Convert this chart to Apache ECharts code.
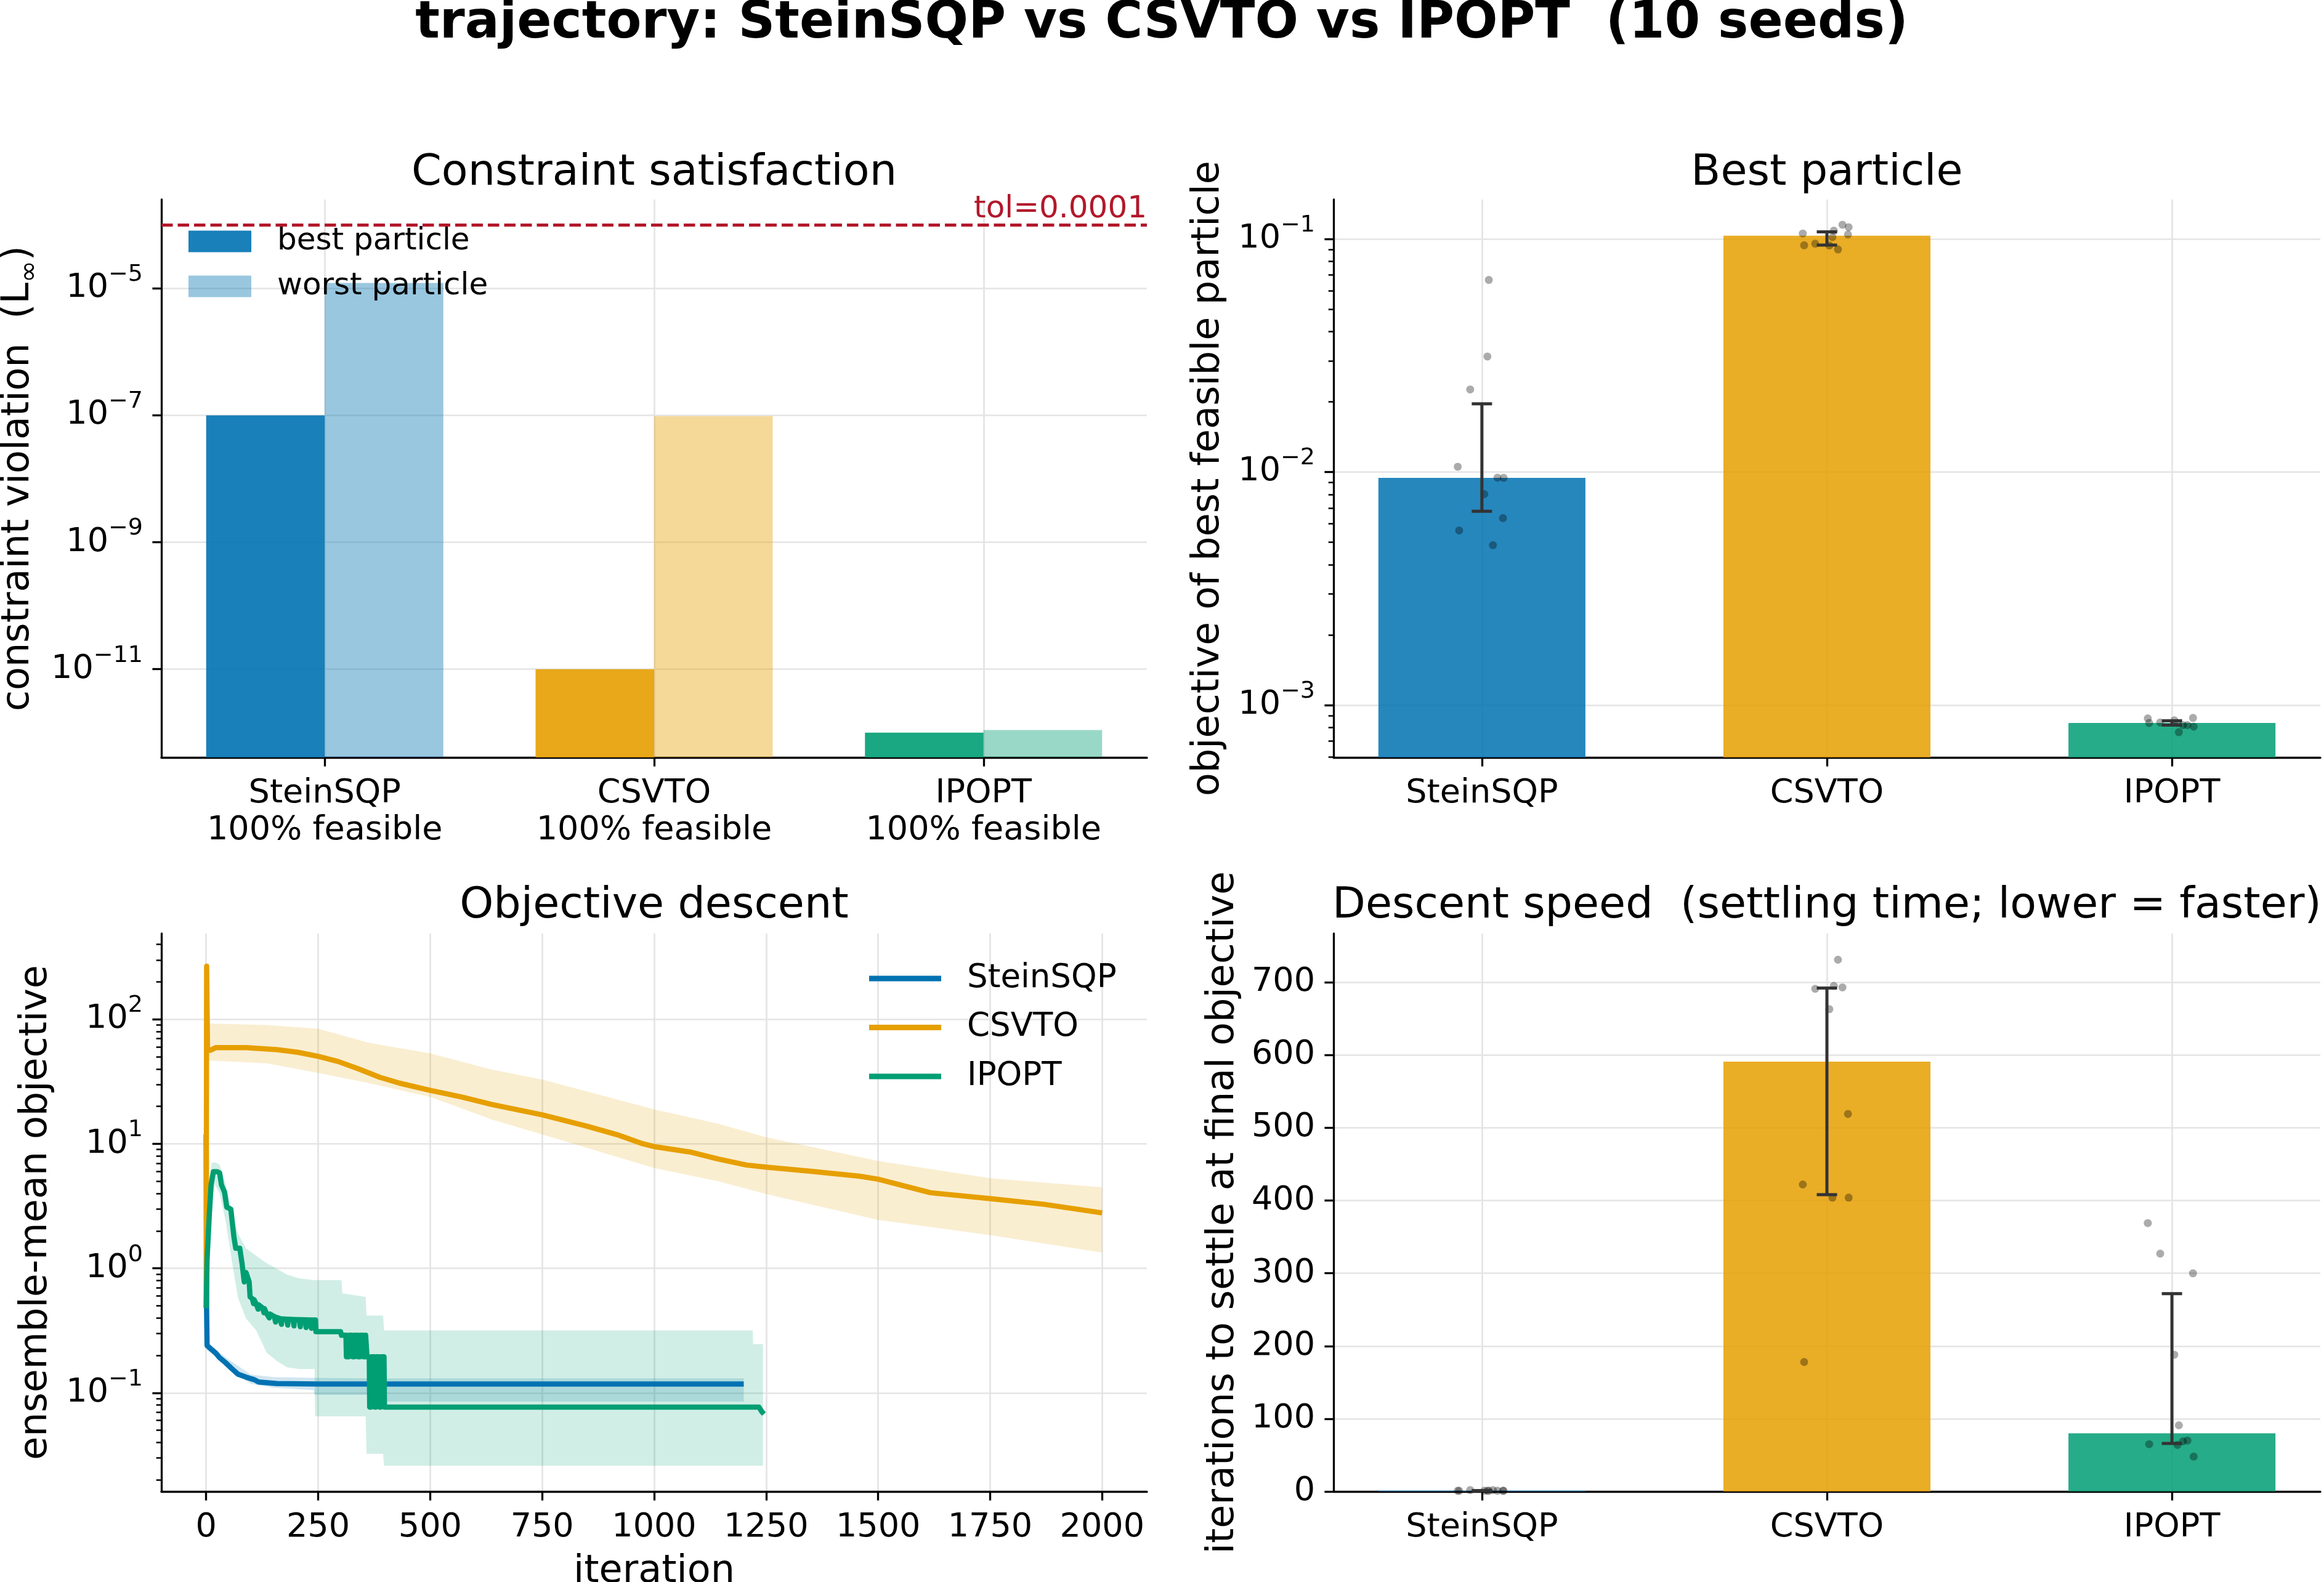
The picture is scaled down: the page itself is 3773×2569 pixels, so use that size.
<!DOCTYPE html>
<html>
<head>
<meta charset="utf-8">
<title>trajectory: SteinSQP vs CSVTO vs IPOPT</title>
<script src="https://cdn.jsdelivr.net/npm/echarts@6.0.0/dist/echarts.min.js"></script>
<style>
html, body { margin: 0; padding: 0; background: #ffffff; }
#chart { width: 3773px; height: 2569px; }
</style>
</head>
<body>
<div id="chart"></div>
<script>
// ====================== DATA ======================
const METHODS = ['SteinSQP', 'CSVTO', 'IPOPT'];
const FEASIBLE_PCT = [100, 100, 100];
const METHOD_COLORS = ['#0072B2', '#E69F00', '#009E73'];

// Constraint satisfaction (L-infinity violation)
const VIOL_BEST = [1.0e-7, 1.0e-11, 1.0e-12];
const VIOL_WORST = [1.22e-5, 9.7e-8, 1.1e-12];
const TOL = 0.0001;
const VIOL_TICKS = [1e-11, 1e-9, 1e-7, 1e-5];

// per-seed horizontal jitter (category units)
const JITTER = [-0.070, -0.066, -0.034, 0.007, 0.016, 0.020, 0.032, 0.045, 0.061, 0.063];

// Best particle: objective of best feasible particle, per seed
const BEST_OBJ_STEINSQP = [0.01053, 0.00561, 0.0226, 0.00803, 0.0313, 0.0667, 0.00485, 0.00945, 0.00634, 0.00944];
const BEST_OBJ_CSVTO = [0.1055, 0.0939, 0.0954, 0.0937, 0.1019, 0.1085, 0.0901, 0.1150, 0.1045, 0.1123];
const BEST_OBJ_IPOPT = [8.76e-4, 8.37e-4, 8.42e-4, 8.59e-4, 8.37e-4, 7.64e-4, 8.20e-4, 8.20e-4, 8.80e-4, 8.08e-4];
const BEST_OBJ_MEDIAN = [0.00944, 0.1033, 8.37e-4];
const BEST_OBJ_Q25 = [0.00678, 0.0941, 8.20e-4];
const BEST_OBJ_Q75 = [0.0196, 0.1072, 8.55e-4];
const BEST_OBJ_TICKS = [1e-3, 1e-2, 1e-1];

// Descent speed: iterations to settle, per seed
const SETTLE_STEINSQP = [1, 1, 2, 1, 1, 1, 2, 1, 1, 1];
const SETTLE_CSVTO = [422, 178, 691, 663, 404, 695, 731, 693, 519, 404];
const SETTLE_IPOPT = [369, 65, 327, 188, 64, 91, 69, 70, 300, 48];
const SETTLE_MEDIAN = [1, 591, 80];
const SETTLE_Q25 = [1, 408, 66];
const SETTLE_Q75 = [1, 692, 272];
const SETTLE_TICKS = [0, 100, 200, 300, 400, 500, 600, 700];

// Objective descent: ensemble-mean objective [iteration, value]
const STEIN_MEAN = [[0, 11.9], [1, 0.45], [2, 0.24], [11, 0.2245], [21, 0.2095], [30, 0.1914], [44, 0.1738], [57, 0.1567],
  [71, 0.1413], [89, 0.1337], [108, 0.1274], [117, 0.1222], [158, 0.1189], [250, 0.1178], [500, 0.1176], [1200, 0.1176]];
const CSVTO_MEAN = [[0, 0.48], [1, 267], [3, 57], [9, 56.4], [21, 59.2], [89, 59.2], [158, 57.1], [204, 54.4], [250, 50.5],
  [295, 45.8], [341, 39.9], [387, 34.3], [432, 30.7], [500, 26.9], [570, 23.8], [638, 20.7], [750, 17.1], [849, 13.9],
  [922, 11.7], [975, 10.0], [1000, 9.5], [1080, 8.6], [1143, 7.55], [1206, 6.76], [1249, 6.5], [1353, 6.0], [1458, 5.5],
  [1500, 5.2], [1617, 4.05], [1754, 3.62], [1870, 3.27], [2000, 2.79]];
const IPOPT_MEAN = [[0, 0.48], [2, 1.18], [7, 2.7], [11, 4.69], [16, 5.97], [25, 5.97], [30, 5.84], [34, 4.69], [41, 4.08],
  [46, 3.1], [55, 2.99], [62, 1.78], [66, 1.45], [75, 1.45], [80, 1.1], [85, 0.778], [89, 0.925], [96, 0.778], [98, 0.59],
  [103, 0.57], [106, 0.52], [107, 0.56], [112, 0.514], [116, 0.47], [117, 0.51], [126, 0.48], [129, 0.44], [130, 0.475],
  [135, 0.433], [141, 0.40], [142, 0.43], [152, 0.41], [155, 0.37], [156, 0.405], [165, 0.395], [168, 0.355], [169, 0.393],
  [180, 0.39], [182, 0.35], [183, 0.39], [194, 0.388], [196, 0.345], [197, 0.388], [208, 0.387], [210, 0.34], [211, 0.387],
  [221, 0.386], [223, 0.335], [224, 0.386], [233, 0.385], [235, 0.33], [236, 0.385], [244, 0.385], [245, 0.31], [300, 0.31],
  [302, 0.29], [312, 0.29], [313, 0.195], [318, 0.195], [319, 0.29], [326, 0.29], [327, 0.195], [331, 0.195], [332, 0.29],
  [338, 0.29], [339, 0.195], [343, 0.195], [344, 0.29], [350, 0.29], [351, 0.195], [355, 0.195], [356, 0.29], [358, 0.29],
  [359, 0.195], [364, 0.195], [365, 0.0769], [368, 0.0769], [369, 0.195], [375, 0.195], [376, 0.0769], [379, 0.0769],
  [380, 0.195], [386, 0.195], [387, 0.0769], [390, 0.0769], [391, 0.195], [397, 0.195], [398, 0.0769], [1234, 0.0769],
  [1240, 0.071], [1245, 0.0676]];

// spread bands [iteration, lower, upper]
const STEIN_BAND = [[0, 11.9, 11.9], [1, 0.40, 0.50], [2, 0.22, 0.26], [20, 0.195, 0.225], [50, 0.155, 0.185],
  [100, 0.118, 0.14], [150, 0.11, 0.134], [240, 0.105, 0.132], [242, 0.0966, 0.132], [360, 0.0966, 0.131],
  [362, 0.085, 0.131], [1200, 0.085, 0.131]];
const CSVTO_BAND = [[3, 46.8, 92.7], [135, 44.3, 90.0], [250, 37.2, 84.1], [364, 30.7, 64.7], [500, 23.8, 53.4],
  [638, 15.7, 39.4], [750, 11.9, 32.9], [1000, 6.4, 18.9], [1143, 5.0, 14.5], [1250, 3.95, 11.3], [1500, 2.45, 7.3],
  [1750, 1.85, 5.3], [2000, 1.34, 4.48]];
const IPOPT_BAND = [[0, 0.48, 0.48], [2, 0.9, 1.8], [7, 1.8, 4.5], [12, 3.5, 7.0], [20, 4.7, 7.1], [30, 4.0, 6.8],
  [44, 2.35, 4.7], [60, 1.0, 2.6], [71, 0.58, 1.9], [89, 0.395, 1.45], [112, 0.316, 1.26], [135, 0.21, 1.1],
  [158, 0.18, 0.99], [181, 0.16, 0.89], [208, 0.155, 0.83], [242, 0.155, 0.805], [243, 0.0647, 0.805],
  [302, 0.0647, 0.805], [304, 0.0647, 0.63], [356, 0.0647, 0.59], [358, 0.0324, 0.418], [395, 0.0324, 0.418],
  [397, 0.026, 0.317], [1220, 0.026, 0.317], [1221, 0.026, 0.246], [1243, 0.026, 0.246]];
const DESCENT_X_TICKS = [0, 250, 500, 750, 1000, 1250, 1500, 1750, 2000];
const DESCENT_Y_TICKS = [0.1, 1, 10, 100];

// ====================== STYLE / HELPERS ======================
const FONT = 'DejaVu Sans';
const INK = '#000000';
const GRIDC = '#e4e4e4';
const TOL_COLOR = '#b2182b';
const ERR_COLOR = '#333333';
const lg = Math.log10;

// axis limits
const TL_Y = [lg(4.07e-13), lg(2.512e-4)];
const TR_Y = [lg(5.957e-4), lg(0.1476)];
const BL_Y = [lg(0.01614), lg(488.7)];
const BR_Y = [0, 767];
const TL_X = [-0.496, 2.496];
const BAR_X = [-0.43, 2.43];
const BL_X = [-100, 2100];

function minorTicks(lo, hi) {
  const out = [];
  for (let e = Math.floor(lo); e <= Math.ceil(hi); e++) {
    for (let k = 2; k <= 9; k++) { const v = e + lg(k); if (v > lo && v < hi) out.push(v); }
  }
  return out;
}
function supLabel(v) {
  const e = Math.round(v);
  return '{b|10}{s|' + (e < 0 ? '\u2212' : '') + Math.abs(e) + '}';
}
const SUP_RICH = {
  b: { fontFamily: FONT, fontSize: 54, color: INK, lineHeight: 82, verticalAlign: 'middle' },
  s: { fontFamily: FONT, fontSize: 38, color: INK, lineHeight: 54, verticalAlign: 'top' }
};

function xAxisDef(gridIndex, lim, vals, formatter) {
  return {
    type: 'value', gridIndex, position: 'bottom', min: lim[0], max: lim[1],
    axisLine: { show: true, onZero: false, lineStyle: { color: INK, width: 3.3 } },
    axisTick: { show: true, customValues: vals, length: 14.6, lineStyle: { color: INK, width: 3.3 } },
    axisLabel: { show: true, customValues: vals, formatter, margin: 29, fontFamily: FONT, fontSize: 54, lineHeight: 60, color: INK },
    splitLine: { show: true, lineStyle: { color: GRIDC, width: 2.7 } }
  };
}
function yAxisDef(gridIndex, lim, vals, formatter, rich) {
  return {
    type: 'value', gridIndex, position: 'left', min: lim[0], max: lim[1],
    axisLine: { show: true, onZero: false, lineStyle: { color: INK, width: 3.3 } },
    axisTick: { show: true, customValues: vals, length: 14.6, lineStyle: { color: INK, width: 3.3 } },
    axisLabel: { show: true, customValues: vals, formatter, margin: 30, fontFamily: FONT, fontSize: 54, color: INK, rich },
    splitLine: { show: true, lineStyle: { color: GRIDC, width: 2.7 } },
    nameLocation: 'middle'
  };
}
function yMinorDef(gridIndex, lim, vals) {
  return {
    type: 'value', gridIndex, position: 'left', min: lim[0], max: lim[1],
    axisLine: { show: false, onZero: false },
    axisTick: { show: true, customValues: vals, length: 8.3, lineStyle: { color: INK, width: 2.5 } },
    axisLabel: { show: false }, splitLine: { show: false }
  };
}
const NAME_STYLE = { fontFamily: FONT, fontSize: 62, color: INK, lineHeight: 62 };

// custom renderers
function barRender(colors, offset, width, opacity, base) {
  return function (params, api) {
    const i = api.value(0), v = api.value(1);
    const p0 = api.coord([i + offset - width / 2, v]);
    const p1 = api.coord([i + offset + width / 2, base]);
    return { type: 'rect', shape: { x: p0[0], y: p0[1], width: p1[0] - p0[0], height: p1[1] - p0[1] },
      style: { fill: colors[Math.round(i)], opacity } };
  };
}
function errRender(params, api) {
  const x = api.value(0), lo = api.value(1), hi = api.value(2);
  const a = api.coord([x, lo]), b = api.coord([x, hi]);
  const cap = 16.5;
  const st = { stroke: ERR_COLOR, lineWidth: 5 };
  return { type: 'group', children: [
    { type: 'line', shape: { x1: a[0], y1: a[1], x2: b[0], y2: b[1] }, style: st },
    { type: 'line', shape: { x1: a[0] - cap, y1: a[1], x2: a[0] + cap, y2: a[1] }, style: st },
    { type: 'line', shape: { x1: b[0] - cap, y1: b[1], x2: b[0] + cap, y2: b[1] }, style: st }
  ] };
}
function bandRender(band, color) {
  return function (params, api) {
    const up = band.map(p => api.coord([p[0], lg(p[2])]));
    const dn = band.slice().reverse().map(p => api.coord([p[0], lg(p[1])]));
    return { type: 'polygon', shape: { points: up.concat(dn) }, style: { fill: color, opacity: 0.18 } };
  };
}
function dots(seedArrays, transform) {
  const out = [];
  seedArrays.forEach((arr, i) => arr.forEach((v, k) => out.push([i + JITTER[k], transform(v)])));
  return out;
}
const ident = v => v;

// ====================== OPTION ======================
const grids = [
  { left: 262, top: 324, width: 1600, height: 906 },
  { left: 2165, top: 324, width: 1602, height: 906 },
  { left: 262, top: 1516, width: 1600, height: 906 },
  { left: 2165, top: 1516, width: 1602, height: 906 }
].map(g => Object.assign({ containLabel: false, outerBoundsMode: 'none' }, g));

const xAxes = [
  xAxisDef(0, TL_X, [0, 1, 2], v => METHODS[Math.round(v)] + '\n' + FEASIBLE_PCT[Math.round(v)] + '% feasible'),
  xAxisDef(1, BAR_X, [0, 1, 2], v => METHODS[Math.round(v)]),
  Object.assign(xAxisDef(2, BL_X, DESCENT_X_TICKS, v => String(v)), {
    name: 'iteration', nameLocation: 'middle', nameGap: 100, nameTextStyle: NAME_STYLE }),
  xAxisDef(3, BAR_X, [0, 1, 2], v => METHODS[Math.round(v)])
];

const yTL = yAxisDef(0, TL_Y, VIOL_TICKS.map(lg), supLabel, SUP_RICH);
yTL.name = '{a|constraint violation  (L}{s|\u221e}{a|)}';
yTL.nameGap = 192;
yTL.nameTextStyle = { rich: {
  a: { fontFamily: FONT, fontSize: 62, color: INK, lineHeight: 80, verticalAlign: 'middle' },
  s: { fontFamily: FONT, fontSize: 43, color: INK, lineHeight: 56, verticalAlign: 'bottom' } } };

const yTR = yAxisDef(1, TR_Y, BEST_OBJ_TICKS.map(lg), supLabel, SUP_RICH);
yTR.name = 'objective of best feasible particle'; yTR.nameGap = 172; yTR.nameTextStyle = NAME_STYLE;

const yBL = yAxisDef(2, BL_Y, DESCENT_Y_TICKS.map(lg), supLabel, SUP_RICH);
yBL.name = 'ensemble-mean objective'; yBL.nameGap = 172; yBL.nameTextStyle = NAME_STYLE;

const yBR = yAxisDef(3, BR_Y, SETTLE_TICKS, v => String(v));
yBR.name = 'iterations to settle at final objective'; yBR.nameGap = 148; yBR.nameTextStyle = NAME_STYLE;

const yAxes = [yTL, yTR, yMinorDef(1, TR_Y, minorTicks(TR_Y[0], TR_Y[1])), yBL, yMinorDef(2, BL_Y, minorTicks(BL_Y[0], BL_Y[1])), yBR];

const series = [
  // --- Constraint satisfaction
  { type: 'custom', name: 'best particle', xAxisIndex: 0, yAxisIndex: 0, silent: true, z: 2,
    itemStyle: { color: 'rgba(0,114,178,0.9)' },
    data: VIOL_BEST.map((v, i) => [i, lg(v)]),
    renderItem: barRender(METHOD_COLORS, -0.18, 0.36, 0.9, TL_Y[0]),
    markLine: { silent: true, symbol: ['none', 'none'], animation: false, data: [{ yAxis: lg(TOL) }],
      lineStyle: { type: [18.5, 8], color: TOL_COLOR, width: 5 },
      label: { show: true, position: 'insideEndTop', formatter: 'tol=' + TOL, fontFamily: FONT, fontSize: 50, color: TOL_COLOR, distance: 0 } } },
  { type: 'custom', name: 'worst particle', xAxisIndex: 0, yAxisIndex: 0, silent: true, z: 2,
    itemStyle: { color: 'rgba(0,114,178,0.4)' },
    data: VIOL_WORST.map((v, i) => [i, lg(v)]),
    renderItem: barRender(METHOD_COLORS, 0.18, 0.36, 0.4, TL_Y[0]) },

  // --- Best particle
  { type: 'custom', name: 'best-median', xAxisIndex: 1, yAxisIndex: 1, silent: true, z: 2,
    data: BEST_OBJ_MEDIAN.map((v, i) => [i, lg(v)]),
    renderItem: barRender(METHOD_COLORS, 0, 0.6, 0.85, TR_Y[0]) },
  { type: 'scatter', name: 'best-seeds', xAxisIndex: 1, yAxisIndex: 1, silent: true, z: 3,
    symbolSize: 13, itemStyle: { color: '#000', opacity: 0.33 },
    data: dots([BEST_OBJ_STEINSQP, BEST_OBJ_CSVTO, BEST_OBJ_IPOPT], lg) },
  { type: 'custom', name: 'best-iqr', xAxisIndex: 1, yAxisIndex: 1, silent: true, z: 4,
    encode: { x: 0, y: [1, 2] },
    data: BEST_OBJ_MEDIAN.map((v, i) => [i, lg(BEST_OBJ_Q25[i]), lg(BEST_OBJ_Q75[i])]),
    renderItem: errRender },

  // --- Objective descent
  { type: 'custom', name: 'band-SteinSQP', xAxisIndex: 2, yAxisIndex: 3, silent: true, z: 1, clip: true,
    data: [[STEIN_BAND[0][0], lg(STEIN_BAND[0][1])]], renderItem: bandRender(STEIN_BAND, METHOD_COLORS[0]) },
  { type: 'custom', name: 'band-CSVTO', xAxisIndex: 2, yAxisIndex: 3, silent: true, z: 1, clip: true,
    data: [[CSVTO_BAND[0][0], lg(CSVTO_BAND[0][1])]], renderItem: bandRender(CSVTO_BAND, METHOD_COLORS[1]) },
  { type: 'custom', name: 'band-IPOPT', xAxisIndex: 2, yAxisIndex: 3, silent: true, z: 1, clip: true,
    data: [[IPOPT_BAND[0][0], lg(IPOPT_BAND[0][1])]], renderItem: bandRender(IPOPT_BAND, METHOD_COLORS[2]) }
].concat([STEIN_MEAN, CSVTO_MEAN, IPOPT_MEAN].map((arr, i) => ({
  type: 'line', name: METHODS[i], xAxisIndex: 2, yAxisIndex: 3, silent: true, z: 2 + i * 0.01, clip: true,
  showSymbol: false, symbol: 'none', color: METHOD_COLORS[i],
  itemStyle: { color: METHOD_COLORS[i] },
  lineStyle: { width: 8.5, color: METHOD_COLORS[i], join: 'round', cap: 'butt' },
  data: arr.map(p => [p[0], lg(p[1])])
}))).concat([
  // --- Descent speed
  { type: 'custom', name: 'settle-median', xAxisIndex: 3, yAxisIndex: 5, silent: true, z: 2,
    data: SETTLE_MEDIAN.map((v, i) => [i, v]),
    renderItem: barRender(METHOD_COLORS, 0, 0.6, 0.85, 0) },
  { type: 'scatter', name: 'settle-seeds', xAxisIndex: 3, yAxisIndex: 5, silent: true, z: 3,
    symbolSize: 13, itemStyle: { color: '#000', opacity: 0.33 },
    data: dots([SETTLE_STEINSQP, SETTLE_CSVTO, SETTLE_IPOPT], ident) },
  { type: 'custom', name: 'settle-iqr', xAxisIndex: 3, yAxisIndex: 5, silent: true, z: 4,
    encode: { x: 0, y: [1, 2] },
    data: SETTLE_MEDIAN.map((v, i) => [i, SETTLE_Q25[i], SETTLE_Q75[i]]),
    renderItem: errRender }
]);

const titleText = (text, x, y, size, weight) => ({
  type: 'text', x, y, silent: true,
  style: { text, fontFamily: FONT, fontSize: size, fontWeight: weight || 'normal', fill: INK, align: 'center', verticalAlign: 'middle' }
});

const option = {
  animation: false,
  backgroundColor: '#ffffff',
  textStyle: { fontFamily: FONT },
  grid: grids,
  xAxis: xAxes,
  yAxis: yAxes,
  legend: [
    { data: [{ name: 'best particle', icon: 'rect' }, { name: 'worst particle', icon: 'rect' }],
      orient: 'vertical', left: 306, top: 367, itemWidth: 102, itemHeight: 35, itemGap: 23, padding: 0,
      selectedMode: false, textStyle: { fontFamily: FONT, fontSize: 50, lineHeight: 50, color: INK, padding: [0, 0, 0, 37] } },
    { data: METHODS.map(n => ({ name: n, icon: 'rect' })),
      orient: 'vertical', left: 1411, top: 1559, itemWidth: 117, itemHeight: 9, itemGap: 19.5, padding: 0,
      selectedMode: false, textStyle: { fontFamily: FONT, fontSize: 53, lineHeight: 60, color: INK, padding: [0, 0, 0, 37] } }
  ],
  graphic: [
    titleText('trajectory: SteinSQP vs CSVTO vs IPOPT  (10 seeds)', 1886, 39, 83, 'bold'),
    titleText('Constraint satisfaction', 1062, 282, 70),
    titleText('Best particle', 2966, 282, 70),
    titleText('Objective descent', 1062, 1472, 70),
    titleText('Descent speed  (settling time; lower = faster)', 2966, 1472, 70)
  ],
  series
};

const chart = echarts.init(document.getElementById('chart'), null, { renderer: 'canvas' });
chart.setOption(option);
</script>
</body>
</html>
